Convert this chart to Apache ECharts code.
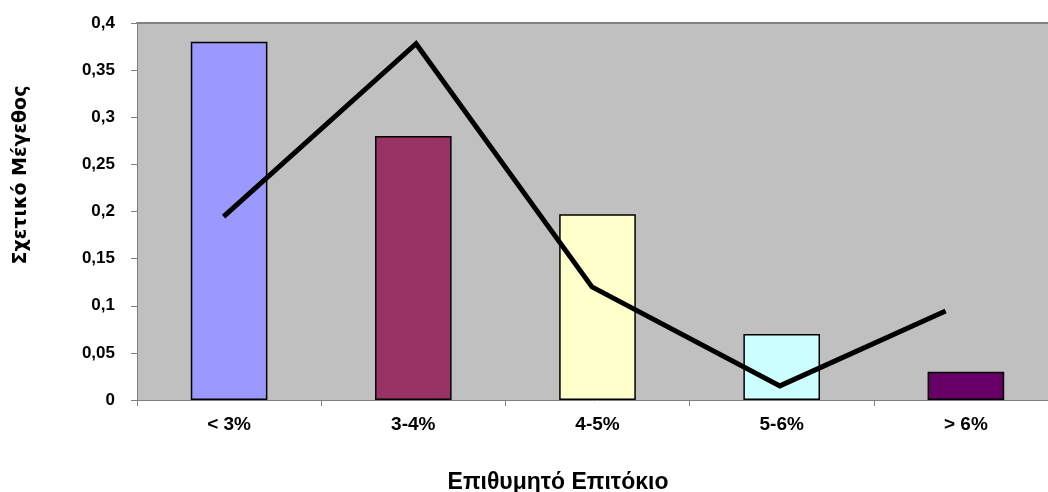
<!DOCTYPE html>
<html>
<head>
<meta charset="utf-8">
<script src="https://cdn.jsdelivr.net/npm/echarts@6/dist/echarts.min.js"></script>
<style>
  html, body { margin: 0; padding: 0; background: #ffffff; overflow: hidden; }
  #chart { width: 1058px; height: 492px; }
</style>
</head>
<body>
<div id="chart"></div>
<script>
// Interest-rate bands and their relative sizes
const categories = ['< 3%', '3-4%', '4-5%', '5-6%', '> 6%'];
const barValues = [0.38, 0.28, 0.197, 0.07, 0.03];
const barColors = ['#9999FF', '#993366', '#FFFFCC', '#CCFFFF', '#660066'];

// Trend line: positions along the category span (0..5) and heights
const linePositions = [0.47, 1.515, 2.47, 3.49, 4.39];
const lineValues = [0.1945, 0.378, 0.12, 0.015, 0.0945];

const yTicks = { min: 0, max: 0.4, interval: 0.05 };

const font = 'Arial, "Liberation Sans", sans-serif';

const chart = echarts.init(document.getElementById('chart'), null, { renderer: 'canvas' });

chart.setOption({
  animation: false,
  backgroundColor: '#ffffff',
  title: {
    text: 'Επιθυμητό Επιτόκιο',
    left: 553,
    top: 466,
    textAlign: 'center',
    textStyle: { fontFamily: font, fontWeight: 'bold', fontSize: 23, color: '#000' }
  },
  graphic: [
    {
      type: 'text',
      x: 21,
      y: 175,
      rotation: Math.PI / 2,
      style: {
        text: 'Σχετικό Μέγεθος',
        font: 'bold 19px "DejaVu Sans", sans-serif',
        fill: '#000',
        textAlign: 'center',
        textVerticalAlign: 'middle'
      }
    }
  ],
  grid: {
    left: 137,
    top: 23,
    right: 0,
    bottom: 92,
    show: true,
    backgroundColor: '#C0C0C0',
    borderWidth: 0
  },
  xAxis: [
    {
      type: 'category',
      data: categories,
      position: 'bottom',
      axisLine: { lineStyle: { color: '#808080', width: 1 } },
      axisTick: { show: true, length: 6, lineStyle: { color: '#808080' } },
      axisLabel: {
        margin: 15,
        fontFamily: font, fontWeight: 'bold', fontSize: 19, color: '#000'
      },
      splitLine: { show: false }
    },
    {
      type: 'value',
      min: 0,
      max: 5,
      position: 'top',
      axisLine: { show: true, lineStyle: { color: '#808080', width: 2 } },
      axisTick: { show: false },
      axisLabel: { show: false },
      splitLine: { show: false }
    }
  ],
  yAxis: {
    type: 'value',
    min: yTicks.min,
    max: yTicks.max,
    interval: yTicks.interval,
    axisLine: { show: true, lineStyle: { color: '#808080', width: 1 } },
    axisTick: { show: true, length: 6, lineStyle: { color: '#808080' } },
    axisLabel: {
      margin: 22,
      fontFamily: font, fontWeight: 'bold', fontSize: 17, color: '#000',
      formatter: v => String(Math.round(v * 100) / 100).replace('.', ',')
    },
    splitLine: { show: false }
  },
  series: [
    {
      type: 'bar',
      xAxisIndex: 0,
      barWidth: '41.6%',
      data: barValues.map((v, i) => ({
        value: v,
        itemStyle: { color: barColors[i], borderColor: '#000', borderWidth: 1.5 }
      })),
      z: 2
    },
    {
      type: 'line',
      xAxisIndex: 1,
      data: linePositions.map((x, i) => [x, lineValues[i]]),
      showSymbol: false,
      symbol: 'none',
      lineStyle: { color: '#000', width: 5, cap: 'butt', join: 'miter' },
      z: 3
    }
  ]
});
</script>
</body>
</html>
